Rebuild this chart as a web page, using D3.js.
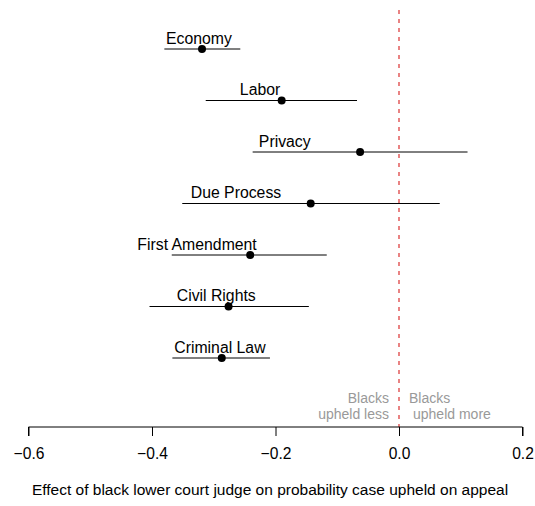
<!DOCTYPE html>
<html>
<head>
<meta charset="utf-8">
<script src="https://cdn.jsdelivr.net/npm/d3@7"></script>
<style>
  html, body { margin: 0; padding: 0; background: #fff; }
  svg text { font-family: "Liberation Sans", Arial, Helvetica, sans-serif; }
</style>
</head>
<body>
<svg id="chart" width="535" height="506"></svg>
<script>
// Issue areas, top to bottom
const issues = ["Economy", "Labor", "Privacy", "Due Process", "First Amendment", "Civil Rights", "Criminal Law"];
// Point estimates of the effect
const estimates = [-0.319, -0.190, -0.063, -0.143, -0.241, -0.276, -0.287];
// Lower and upper interval bounds
const lower = [-0.380, -0.313, -0.237, -0.351, -0.368, -0.404, -0.367];
const upper = [-0.257, -0.068, 0.111, 0.066, -0.117, -0.146, -0.209];
// Where each issue name sits along the effect axis
const labelAt = [-0.324, -0.225, -0.185, -0.264, -0.327, -0.296, -0.290];
// Axis ticks
const ticks = [-0.6, -0.4, -0.2, 0.0, 0.2];

const svg = d3.select("#chart");
const x = d3.scaleLinear().domain([-0.6, 0.2]).range([28.5, 522.5]);
const y = d3.scalePoint().domain(issues).range([49, 358]);
const axisY = 427;

// Reference line at zero effect
svg.append("line")
  .attr("x1", x(0)).attr("x2", x(0))
  .attr("y1", 10).attr("y2", axisY)
  .attr("stroke", "#d81e1e").attr("stroke-width", 1.1)
  .attr("stroke-dasharray", "4,5");

const rows = svg.append("g").selectAll("g")
  .data(issues.map((d, i) => ({ name: d, est: estimates[i], lo: lower[i], hi: upper[i], lab: labelAt[i] })))
  .join("g");

rows.append("line")
  .attr("x1", d => x(d.lo)).attr("x2", d => x(d.hi))
  .attr("y1", d => y(d.name)).attr("y2", d => y(d.name))
  .attr("stroke", "#000").attr("stroke-width", 1);

rows.append("circle")
  .attr("cx", d => x(d.est)).attr("cy", d => y(d.name))
  .attr("r", 4).attr("fill", "#000");

rows.append("text")
  .attr("x", d => x(d.lab)).attr("y", d => y(d.name) - 5.5)
  .attr("text-anchor", "middle")
  .attr("font-size", 15.8)
  .text(d => d.name);

// Bottom axis
const axis = d3.axisBottom(x)
  .tickValues(ticks)
  .tickSize(9)
  .tickPadding(12)
  .tickFormat(d => d3.format(".1f")(d).replace("-", "\u2212"));

const gAxis = svg.append("g")
  .attr("transform", `translate(0,${axisY})`)
  .call(axis);
gAxis.select(".domain").attr("d", `M${x(-0.6)},9V0H${x(0.2)}V9`).attr("stroke", "#000");
gAxis.selectAll(".tick line").attr("stroke", "#000");
gAxis.selectAll(".tick text")
  .attr("font-size", 15.6).attr("fill", "#000")
  .attr("font-family", "Liberation Sans, Arial, sans-serif");

// Direction notes beside the zero line
const note = svg.append("g").attr("font-size", 14).attr("fill", "#999");
note.append("text").attr("x", x(0) - 10).attr("y", 403).attr("text-anchor", "end").text("Blacks");
note.append("text").attr("x", x(0) - 10).attr("y", 419).attr("text-anchor", "end").text("upheld less");
note.append("text").attr("x", x(0) + 10).attr("y", 403).attr("text-anchor", "start").text("Blacks");
note.append("text").attr("x", x(0) + 14).attr("y", 419).attr("text-anchor", "start").text("upheld more");

// Axis title
svg.append("text")
  .attr("x", 270).attr("y", 495)
  .attr("text-anchor", "middle")
  .attr("font-size", 15.5)
  .text("Effect of black lower court judge on probability case upheld on appeal");
</script>
</body>
</html>
